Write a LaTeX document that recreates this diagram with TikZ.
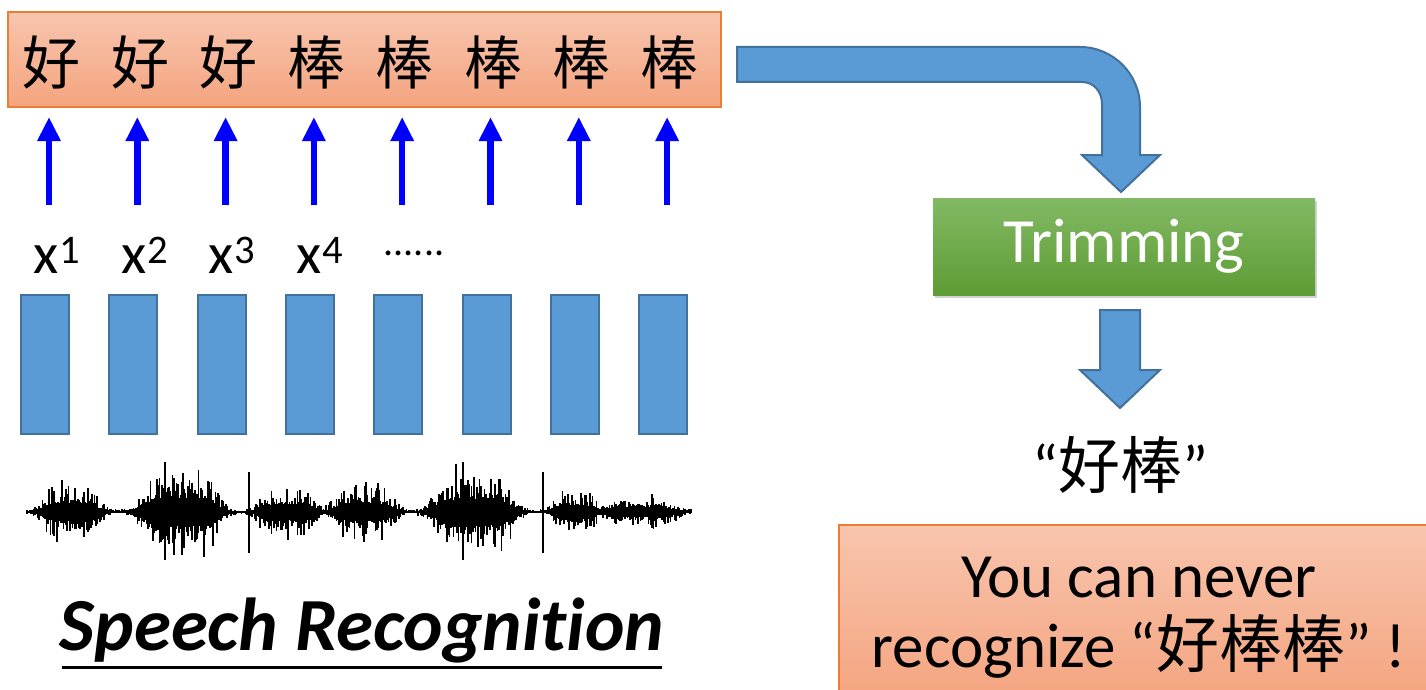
\documentclass[tikz,border=0pt]{standalone}
\usepackage{fontspec}
\setmainfont{Carlito}[Ligatures=NoCommon]
\newfontfamily\cjk{Noto Sans CJK SC}
\usetikzlibrary{arrows.meta,shadows}

\definecolor{barTop}{HTML}{F8C5AE}
\definecolor{barBot}{HTML}{F4A47F}
\definecolor{barEdge}{HTML}{ED7D31}
\definecolor{frameFill}{HTML}{5B9BD5}
\definecolor{frameEdge}{HTML}{41719C}
\definecolor{greenTop}{HTML}{82B964}
\definecolor{greenBot}{HTML}{5E9C34}

\tikzset{
  resultbar/.style={draw=barEdge, line width=1.5pt, top color=barTop, bottom color=barBot, inner sep=0pt},
  frame/.style={draw=frameEdge, line width=2pt, fill=frameFill, minimum width=48pt, minimum height=139pt, inner sep=0pt},
  blockarrow/.style={draw=frameEdge, line width=2pt, fill=frameFill, line join=miter},
  uparrow/.style={draw=blue, line width=6.5pt, -{Triangle[width=22pt,length=24pt]}},
  hanzi/.style={font=\cjk\fontsize{58}{60}\selectfont, inner sep=0pt},
  xlabel/.style={font=\fontsize{58}{60}\selectfont, anchor=base, inner sep=0pt},
  trimbox/.style={top color=greenTop, bottom color=greenBot, minimum width=382pt, minimum height=97pt,
    text=white, font=\fontsize{63}{66}\selectfont, drop shadow={shadow xshift=2pt, shadow yshift=-3pt, opacity=0.35}},
  msgtext/.style={font=\fontsize{63}{66}\selectfont, anchor=base, inner sep=0pt},
  wave/.style={line width=1.7pt, black},
}

\begin{document}
\begin{tikzpicture}[x=1pt, y=-1pt,
  declare function={
    bump(\c,\w,\t)=exp(-(min(((\t-\c)/\w)^2,3))^2);
    env(\t)=3+32*bump(70,30,\t)+50*bump(180,40,\t)+28*bump(287,30,\t)
            +32*bump(364,31,\t)+50*bump(474,40,\t)+26*bump(574,22,\t)+16*bump(640,38,\t);
  }]
  \clip (0,0) rectangle (1426,690);
  \fill[white] (0,0) rectangle (1426,690);

  % recognised characters, one per frame
  \node[resultbar, minimum width=713pt, minimum height=95pt] (bar) at (364.5,59.5) {};
  \foreach \i/\ch in {0/好,1/好,2/好,3/棒,4/棒,5/棒,6/棒,7/棒}{
    \node[hanzi] (h\i) at ({52+88.2*\i},62) {\ch};
  }

  % acoustic frames
  \foreach \i in {0,...,7}{
    \node[frame] (f\i) at ({45+88.3*\i},364.5) {};
    \coordinate (a\i) at ({49+88.3*\i},205);
    \coordinate (b\i) at ({49+88.3*\i},117);
    \draw[uparrow] (a\i) -- (b\i);
  }

  % frame labels
  \node[xlabel] (x1) at (57,273) {x\textsuperscript{1}};
  \node[xlabel] (x2) at (145,273) {x\textsuperscript{2}};
  \node[xlabel] (x3) at (232,273) {x\textsuperscript{3}};
  \node[xlabel] (x4) at (320,273) {x\textsuperscript{4}};
  \node[xlabel, font=\fontsize{40}{42}\selectfont] (dots) at (414,255) {......};

  % speech waveform
  \draw[line width=2.5pt] (27,512) -- (692,512);
  \pgfmathsetseed{17}
  \foreach \i in {0,...,511}{
    \pgfmathsetmacro\xx{27+1.3*\i}
    \pgfmathsetmacro\ee{env(\xx)}
    \pgfmathsetmacro\up{\ee*(0.25+0.75*rnd*rnd)}
    \pgfmathsetmacro\dn{\ee*(0.25+0.75*rnd*rnd)}
    \draw[wave] (\xx,512-\up) -- (\xx,512+\dn);
  }
  \draw[wave] (249,472) -- (249,553);
  \draw[wave] (543,472) -- (543,553);
  \draw[wave] (165,462) -- (165,560);
  \draw[wave] (463,462) -- (463,560);

  % caption
  \node[font=\fontsize{75}{78}\selectfont\bfseries\itshape, anchor=base, inner sep=0pt] (cap) at (362,650) {Speech Recognition};
  \draw[line width=3pt] (62,667) -- (662,667);

  % bent arrow from the bar to the trimming step
  \draw[blockarrow] (737,47) -- (1080,47)
    .. controls (1113,47) and (1140,74) .. (1140,107)
    -- (1140,155) -- (1160,155) -- (1121,192) -- (1082,155) -- (1102,155) -- (1102,104)
    .. controls (1102,92) and (1094,82) .. (1082,82) -- (737,82) -- cycle;

  \node[trimbox] (trim) at (1124,246.5) {Trimming};

  \draw[blockarrow] (1100,310) -- (1140,310) -- (1140,370) -- (1160,370) -- (1120,408)
    -- (1080,370) -- (1100,370) -- cycle;

  \node[font=\fontsize{62}{66}\selectfont, inner sep=0pt] (out) at (1120,465) {“{\cjk 好棒}”};

  % message box
  \node[resultbar, minimum width=602pt, minimum height=176pt, anchor=north west] (msg) at (838,524) {};
  \node[msgtext] (l1) at (1139,597) {You can never};
  \node[msgtext] (l2) at (1139,667) {recognize “{\cjk 好棒棒}” !};
\end{tikzpicture}
\end{document}
